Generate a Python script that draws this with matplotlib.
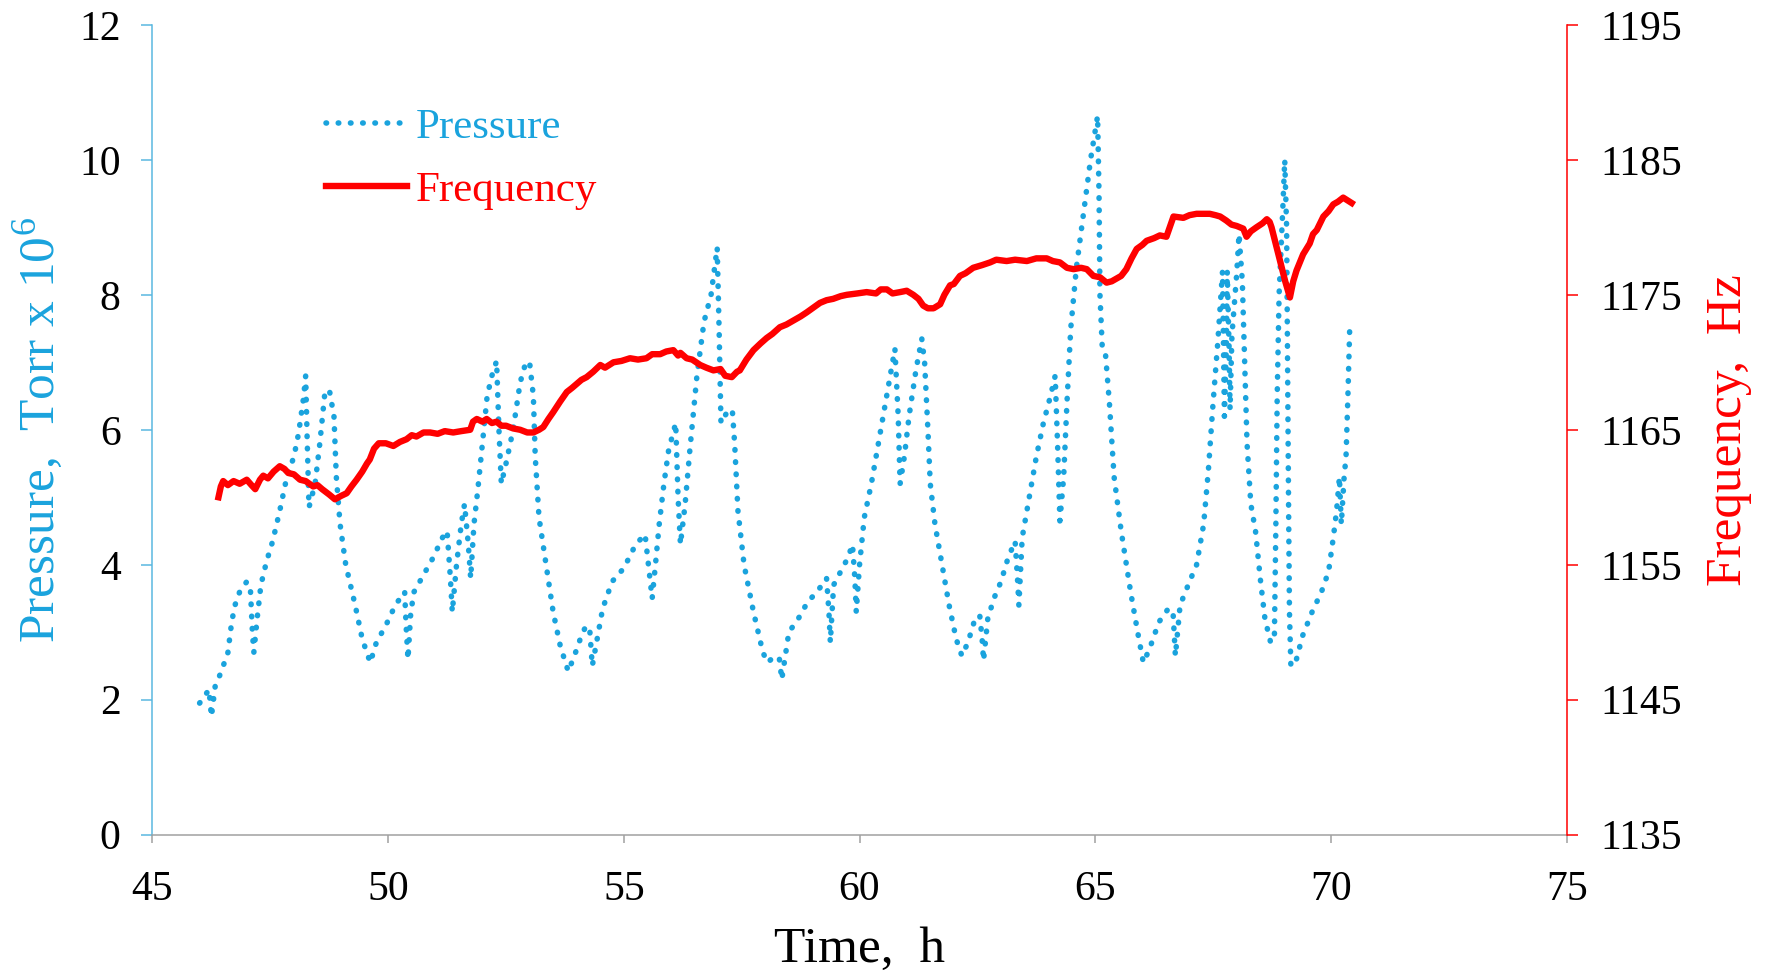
import matplotlib
matplotlib.use("Agg")
import matplotlib.pyplot as plt

plt.rcParams["font.family"] = ["Liberation Serif", "DejaVu Serif"]
plt.rcParams["mathtext.fontset"] = "stix"

# pressure trace (time in h, pressure in Torr x 1e6)
time_pressure = [
    46.0, 46.1, 46.2, 46.25, 46.33, 46.45, 46.6, 46.68, 46.75, 46.85, 47.0, 47.08, 47.12, 47.15,
    47.22, 47.3, 47.42, 47.55, 47.7, 47.85, 48.0, 48.1, 48.2, 48.25, 48.28, 48.32, 48.45, 48.55,
    48.65, 48.75, 48.85, 48.9, 48.98, 49.1, 49.3, 49.45, 49.62, 49.75, 49.95, 50.15, 50.35, 50.38,
    50.42, 50.48, 50.55, 50.75, 50.95, 51.15, 51.25, 51.32, 51.36, 51.45, 51.55, 51.62, 51.7, 51.75,
    51.82, 51.9, 52.0, 52.1, 52.2, 52.3, 52.35, 52.4, 52.5, 52.65, 52.8, 52.92, 53.0, 53.08,
    53.12, 53.2, 53.35, 53.5, 53.65, 53.82, 53.95, 54.1, 54.2, 54.28, 54.33, 54.42, 54.55, 54.75,
    55.0, 55.25, 55.45, 55.52, 55.6, 55.67, 55.75, 55.85, 55.95, 56.1, 56.15, 56.2, 56.3, 56.4,
    56.55, 56.7, 56.85, 56.98, 57.02, 57.06, 57.18, 57.3, 57.35, 57.42, 57.55, 57.75, 57.95, 58.05,
    58.2, 58.3, 58.35, 58.5, 58.7, 58.9, 59.1, 59.3, 59.35, 59.38, 59.45, 59.6, 59.75, 59.85,
    59.9, 59.93, 60.0, 60.1, 60.25, 60.4, 60.55, 60.7, 60.75, 60.82, 60.86, 60.95, 61.05, 61.2,
    61.32, 61.38, 61.45, 61.5, 61.6, 61.75, 61.9, 62.05, 62.17, 62.3, 62.45, 62.55, 62.6, 62.63,
    62.72, 62.85, 63.0, 63.15, 63.3, 63.35, 63.38, 63.45, 63.6, 63.75, 63.9, 64.05, 64.15, 64.2,
    64.25, 64.33, 64.4, 64.48, 64.6, 64.75, 64.9, 65.05, 65.08, 65.1, 65.15, 65.22, 65.3, 65.4,
    65.55, 65.75, 65.9, 66.02, 66.15, 66.35, 66.55, 66.65, 66.7, 66.8, 67.0, 67.15, 67.3, 67.4,
    67.5, 67.6, 67.7, 67.72, 67.74, 67.78, 67.8, 67.84, 67.86, 67.9, 68.0, 68.05, 68.12, 68.17,
    68.22, 68.3, 68.4, 68.5, 68.6, 68.72, 68.8, 68.83, 68.86, 68.9, 68.98, 69.02, 69.06, 69.08,
    69.1, 69.12, 69.15, 69.25, 69.4, 69.6, 69.8, 69.95, 70.05, 70.12, 70.18, 70.22, 70.28, 70.32,
    70.36, 70.4,
]
pressure = [
    1.95, 2.05, 2.15, 1.75, 2.2, 2.4, 2.7, 3.15, 3.4, 3.6, 3.75, 3.6, 3.0, 2.7,
    3.2, 3.7, 4.05, 4.35, 4.8, 5.3, 5.6, 5.95, 6.45, 6.8, 5.9, 4.85, 5.2, 5.8,
    6.5, 6.6, 6.2, 5.3, 4.6, 4.0, 3.4, 2.9, 2.55, 2.85, 3.1, 3.4, 3.6, 3.1,
    2.6, 3.3, 3.6, 3.85, 4.1, 4.4, 4.5, 3.8, 3.3, 4.0, 4.6, 4.9, 4.3, 3.8,
    4.6, 5.1, 5.8, 6.5, 6.8, 7.02, 6.0, 5.2, 5.5, 6.0, 6.7, 7.0, 7.0, 6.5,
    5.6, 4.7, 4.0, 3.3, 2.8, 2.42, 2.65, 2.95, 3.1, 3.0, 2.5, 2.85, 3.35, 3.75,
    3.95, 4.3, 4.45, 4.0, 3.5, 4.0, 4.6, 5.2, 5.7, 6.1, 5.0, 4.3, 4.9, 5.7,
    6.8, 7.6, 8.0, 8.7, 7.5, 6.1, 6.25, 6.3, 5.8, 4.8, 4.0, 3.3, 2.7, 2.55,
    2.65, 2.6, 2.3, 3.0, 3.2, 3.45, 3.6, 3.8, 3.3, 2.85, 3.7, 3.9, 4.1, 4.3,
    3.8, 3.3, 4.0, 4.7, 5.2, 5.8, 6.4, 7.0, 7.2, 6.2, 5.2, 5.6, 6.2, 6.9,
    7.35, 7.0, 6.0, 5.2, 4.6, 4.0, 3.4, 2.9, 2.65, 2.85, 3.2, 3.25, 2.9, 2.58,
    3.2, 3.5, 3.75, 4.1, 4.35, 3.8, 3.4, 4.4, 5.0, 5.6, 6.1, 6.5, 6.8, 5.8,
    4.65, 5.3, 6.4, 7.5, 8.4, 9.2, 10.0, 10.65, 9.5, 8.0, 7.2, 7.1, 6.4, 5.3,
    4.5, 3.6, 3.0, 2.55, 2.75, 3.15, 3.35, 3.3, 2.65, 3.4, 3.75, 4.0, 4.6, 5.4,
    6.4, 7.3, 8.35, 7.3, 6.2, 7.2, 8.35, 7.2, 6.3, 7.4, 8.3, 8.9, 8.2, 7.0,
    5.8, 4.9, 4.5, 3.8, 3.2, 2.85, 2.9, 4.5, 6.5, 8.0, 9.3, 10.0, 9.0, 7.0,
    5.0, 3.3, 2.5, 2.55, 2.95, 3.3, 3.6, 3.9, 4.4, 4.8, 5.3, 4.6, 5.3, 5.6,
    6.5, 7.55,
]

# frequency trace (time in h, frequency in Hz)
time_frequency = [
    46.4, 46.45, 46.5, 46.6, 46.72, 46.85, 47.0, 47.1, 47.18, 47.28, 47.35, 47.45, 47.57, 47.7,
    47.8, 47.88, 48.0, 48.13, 48.25, 48.41, 48.5, 48.6, 48.75, 48.87, 49.0, 49.12, 49.22, 49.33,
    49.45, 49.55, 49.61, 49.7, 49.8, 49.95, 50.11, 50.25, 50.39, 50.5, 50.6, 50.75, 50.89, 51.05,
    51.2, 51.38, 51.55, 51.74, 51.8, 51.88, 52.0, 52.09, 52.2, 52.3, 52.4, 52.5, 52.65, 52.8,
    52.95, 53.08, 53.2, 53.29, 53.4, 53.5, 53.65, 53.79, 53.9, 54.0, 54.1, 54.21, 54.35, 54.5,
    54.6, 54.78, 54.95, 55.13, 55.3, 55.48, 55.6, 55.77, 55.9, 56.05, 56.15, 56.2, 56.33, 56.45,
    56.62, 56.75, 56.9, 57.05, 57.15, 57.29, 57.4, 57.46, 57.6, 57.75, 57.9, 58.03, 58.15, 58.31,
    58.45, 58.6, 58.75, 58.88, 59.0, 59.16, 59.3, 59.44, 59.6, 59.73, 59.95, 60.15, 60.35, 60.45,
    60.58, 60.7, 60.86, 61.0, 61.14, 61.25, 61.35, 61.45, 61.57, 61.71, 61.8, 61.92, 62.0, 62.13,
    62.25, 62.41, 62.6, 62.77, 62.9, 63.12, 63.3, 63.55, 63.75, 63.97, 64.1, 64.25, 64.4, 64.54,
    64.7, 64.82, 64.96, 65.1, 65.24, 65.35, 65.45, 65.55, 65.66, 65.77, 65.88, 66.0, 66.09, 66.25,
    66.37, 66.51, 66.58, 66.66, 66.87, 67.0, 67.15, 67.43, 67.55, 67.65, 67.78, 67.89, 68.0, 68.14,
    68.21, 68.3, 68.42, 68.55, 68.64, 68.7, 68.74, 68.82, 68.92, 69.03, 69.13, 69.2, 69.27, 69.41,
    69.55, 69.62, 69.7, 69.84, 69.95, 70.05, 70.15, 70.26, 70.35, 70.44,
]
frequency = [
    1160.0, 1160.8, 1161.2, 1160.9, 1161.2, 1161.0, 1161.3, 1160.9, 1160.6, 1161.3, 1161.6, 1161.4, 1161.9, 1162.3,
    1162.1, 1161.8, 1161.7, 1161.3, 1161.2, 1160.8, 1160.9, 1160.6, 1160.2, 1159.85, 1160.1, 1160.3, 1160.8, 1161.3,
    1161.9, 1162.5, 1162.8, 1163.6, 1164.0, 1164.0, 1163.8, 1164.1, 1164.3, 1164.6, 1164.5, 1164.8, 1164.8, 1164.7,
    1164.9, 1164.8, 1164.9, 1165.0, 1165.6, 1165.8, 1165.6, 1165.8, 1165.5, 1165.6, 1165.3, 1165.3, 1165.1, 1165.0,
    1164.8, 1164.8, 1165.0, 1165.2, 1165.8, 1166.3, 1167.1, 1167.8, 1168.1, 1168.4, 1168.7, 1168.9, 1169.3, 1169.8,
    1169.6, 1170.0, 1170.1, 1170.3, 1170.2, 1170.3, 1170.6, 1170.6, 1170.8, 1170.9, 1170.5, 1170.7, 1170.3, 1170.2,
    1169.8, 1169.6, 1169.4, 1169.5, 1169.0, 1168.9, 1169.3, 1169.4, 1170.2, 1170.9, 1171.4, 1171.8, 1172.1, 1172.6,
    1172.8, 1173.1, 1173.4, 1173.7, 1174.0, 1174.4, 1174.6, 1174.7, 1174.9, 1175.0, 1175.1, 1175.2, 1175.1, 1175.4,
    1175.4, 1175.1, 1175.2, 1175.3, 1175.0, 1174.7, 1174.2, 1174.0, 1174.0, 1174.3, 1175.0, 1175.7, 1175.8, 1176.4,
    1176.6, 1177.0, 1177.2, 1177.4, 1177.6, 1177.5, 1177.6, 1177.5, 1177.7, 1177.7, 1177.5, 1177.4, 1177.0, 1176.9,
    1177.0, 1176.9, 1176.4, 1176.3, 1175.9, 1176.0, 1176.2, 1176.4, 1176.9, 1177.7, 1178.4, 1178.7, 1179.0, 1179.2,
    1179.4, 1179.3, 1180.0, 1180.8, 1180.7, 1180.9, 1181.0, 1181.0, 1180.9, 1180.8, 1180.5, 1180.2, 1180.1, 1179.9,
    1179.3, 1179.7, 1180.0, 1180.3, 1180.6, 1180.4, 1180.0, 1178.9, 1177.5, 1176.0, 1174.8, 1176.0, 1176.8, 1178.0,
    1178.8, 1179.5, 1179.8, 1180.8, 1181.2, 1181.7, 1181.9, 1182.2, 1182.0, 1181.8,
]

x_ticks = [45, 50, 55, 60, 65, 70, 75]
p_ticks = [0, 2, 4, 6, 8, 10, 12]
f_ticks = [1135, 1145, 1155, 1165, 1175, 1185, 1195]

blue = "#1AA3DD"
axis_blue = "#5AB8E0"
red = "#FF0000"
gray = "#A0A0A0"

fig = plt.figure(figsize=(17.71, 9.74), dpi=100)
ax = fig.add_axes([0.0861, 0.143, 0.7985, 0.8315])
ax2 = ax.twinx()

p_line, = ax.plot(time_pressure, pressure, color=blue, lw=4.0,
                  linestyle=(0, (0.1, 2.1)), dash_capstyle="round", label="Pressure")
f_line, = ax2.plot(time_frequency, frequency, color=red, lw=4.6,
                   solid_joinstyle="round", label="Frequency")

ax.set_xlim(45, 75)
ax.set_ylim(0, 12)
ax2.set_ylim(1135, 1195)
ax.set_xticks(x_ticks)
ax.set_yticks(p_ticks)
ax2.set_yticks(f_ticks)

for a in (ax, ax2):
    a.spines["top"].set_visible(False)
    for s in a.spines.values():
        s.set_linewidth(1.1)
ax.spines["right"].set_visible(False)
ax2.spines["left"].set_visible(False)
ax2.spines["bottom"].set_visible(False)
ax.spines["left"].set_color(axis_blue)
ax.spines["bottom"].set_color(gray)
ax2.spines["right"].set_color(red)

ax.tick_params(axis="y", colors=axis_blue, labelcolor="black", labelsize=30,
               length=8, width=1.1, pad=15)
ax.tick_params(axis="x", colors=gray, labelcolor="black", labelsize=30,
               length=6, width=1.1, pad=20)
ax2.tick_params(axis="y", colors=red, labelcolor="black", labelsize=30,
                length=8, width=1.1, pad=16)

ax.set_xlabel("Time,  h", fontsize=37)
ax.set_ylabel(r"Pressure,  Torr x 10$^{\mathregular{6}}$", fontsize=37, color=blue)
ax2.set_ylabel("Frequency,  Hz", fontsize=37, color=red)
ax.xaxis.set_label_coords(0.5, -0.113)
ax.yaxis.set_label_coords(-0.062, 0.5)
ax2.yaxis.set_label_coords(1.098, 0.5)

ax2.legend(handles=[p_line, f_line], loc="upper left", bbox_to_anchor=(0.095, 0.945),
           frameon=False, fontsize=31, labelcolor="linecolor",
           handlelength=1.9, handletextpad=0.2, labelspacing=0.55)

fig.savefig("out.png", dpi=100)
